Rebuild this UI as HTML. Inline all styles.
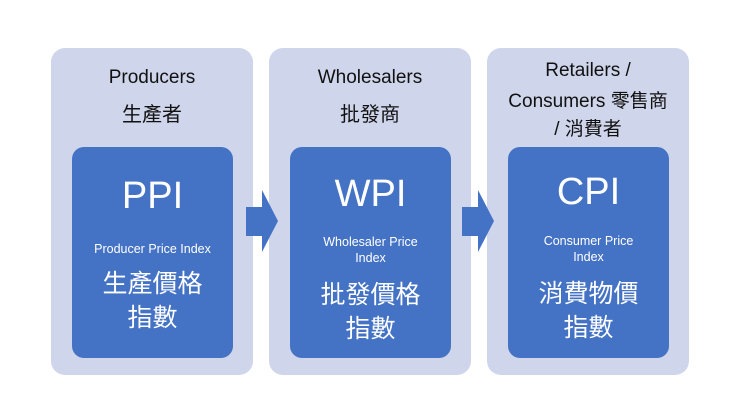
<!DOCTYPE html>
<html><head><meta charset="utf-8"><style>
body{margin:0;width:740px;height:416px;background:#fff;position:relative;overflow:hidden;font-family:"Liberation Sans","Noto Sans CJK TC",sans-serif}
.o{position:absolute;top:48px;width:202px;height:327px;background:#cfd5ea;border-radius:14px}
.i{position:absolute;top:147px;width:161px;height:211px;background:#4472c4;border-radius:12px;color:#fff;text-align:center}
.t{position:absolute;left:0;width:100%;text-align:center;color:#111;white-space:nowrap}
.i div{position:absolute;left:0;width:100%;text-align:center;white-space:nowrap}
.big{font-size:38px}.sm{font-size:12.5px}.cj{font-size:25px}
</style></head><body>
<div class="o" style="left:51px"></div>
<div class="o" style="left:269px"></div>
<div class="o" style="left:487px"></div>
<svg style="position:absolute;left:0;top:0" width="740" height="416">
<polygon points="246,207 262,207 262,190 278,221 262,252 262,236 246,236" fill="#4472c4"/>
<polygon points="462,207 478,207 478,190 494,221 478,252 478,236 462,236" fill="#4472c4"/>
</svg>
<div class="t" style="left:51px;width:202px;top:67px;font-size:19px">Producers</div>
<div class="t" style="left:51px;width:202px;top:98px;font-size:20px">生產者</div>
<div class="t" style="left:269px;width:202px;top:67px;font-size:19px">Wholesalers</div>
<div class="t" style="left:269px;width:202px;top:98px;font-size:20px">批發商</div>
<div class="t" style="left:487px;width:202px;top:60px;font-size:19px">Retailers /</div>
<div class="t" style="left:487px;width:202px;top:86px;font-size:19px">Consumers 零售商</div>
<div class="t" style="left:487px;width:202px;top:114px;font-size:19px">/ 消費者</div>
<div class="i" style="left:72px">
<div class="big" style="top:28px">PPI</div>
<div class="sm" style="top:95px">Producer Price Index</div>
<div class="cj" style="top:117px">生產價格</div>
<div class="cj" style="top:151px">指數</div>
</div>
<div class="i" style="left:290px">
<div class="big" style="top:26px">WPI</div>
<div class="sm" style="top:88px">Wholesaler Price</div>
<div class="sm" style="top:104px">Index</div>
<div class="cj" style="top:128px">批發價格</div>
<div class="cj" style="top:162px">指數</div>
</div>
<div class="i" style="left:508px">
<div class="big" style="top:24px">CPI</div>
<div class="sm" style="top:87px">Consumer Price</div>
<div class="sm" style="top:103px">Index</div>
<div class="cj" style="top:127px">消費物價</div>
<div class="cj" style="top:161px">指數</div>
</div>
</body></html>
